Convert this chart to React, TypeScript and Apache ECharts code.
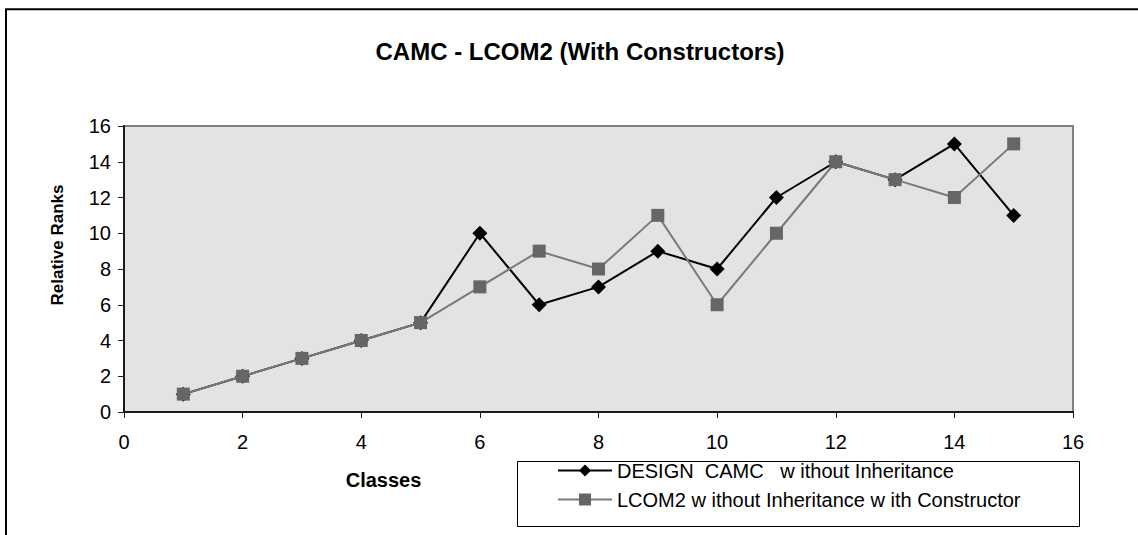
import React, { useEffect, useRef } from "react";
import * as echarts from "echarts";

const classes = [1, 2, 3, 4, 5, 6, 7, 8, 9, 10, 11, 12, 13, 14, 15];
const designCamc = [1, 2, 3, 4, 5, 10, 6, 7, 9, 8, 12, 14, 13, 15, 11];
const lcom2 = [1, 2, 3, 4, 5, 7, 9, 8, 11, 6, 10, 14, 13, 12, 15];
const seriesNames = [
  "DESIGN  CAMC   w ithout Inheritance",
  "LCOM2 w ithout Inheritance w ith Constructor",
];
const titleText = "CAMC - LCOM2 (With Constructors)";
const xName = "Classes";
const yName = "Relative Ranks";

const FONT = "'Liberation Sans', Arial, Helvetica, sans-serif";

export default function App() {
  const ref = useRef<HTMLDivElement>(null);
  useEffect(() => {
    if (!ref.current) return;
    const chart = echarts.init(ref.current, undefined, { renderer: "svg" });
    chart.setOption({
      animation: false,
      backgroundColor: "#ffffff",
      textStyle: { fontFamily: FONT, color: "#000" },
      title: {
        text: titleText,
        left: 580,
        top: 39,
        padding: 0,
        textAlign: "center",
        textStyle: { fontFamily: FONT, fontWeight: "bold", fontSize: 24, color: "#000" },
      },
      graphic: [
        {
          type: "rect",
          shape: { x: 6, y: 9.3, width: 1200, height: 600 },
          style: { fill: "none", stroke: "#000", lineWidth: 2 },
          silent: true,
        },
        {
          type: "rect",
          shape: { x: 517.5, y: 461.5, width: 562, height: 65 },
          style: { fill: "#fff", stroke: "#000", lineWidth: 1 },
          silent: true,
          z: 0,
        },
      ],
      legend: {
        orient: "vertical",
        left: 557,
        top: 460.5,
        padding: 0,
        itemWidth: 54,
        itemHeight: 15,
        itemGap: 9,
        z: 10,
        textStyle: { fontFamily: FONT, fontSize: 20, lineHeight: 20, color: "#000" },
        data: seriesNames,
      },
      grid: {
        left: 124,
        right: 65,
        top: 126,
        bottom: 123,
        show: true,
        backgroundColor: "#e3e3e3",
        borderColor: "#808080",
        borderWidth: 2,
      },
      xAxis: {
        type: "value",
        min: 0,
        max: 16,
        interval: 2,
        name: xName,
        nameLocation: "middle",
        nameGap: 58,
        nameTextStyle: {
          fontFamily: FONT,
          fontWeight: "bold",
          fontSize: 20,
          color: "#000",
          padding: [0, 430, 0, 0],
        },
        axisLine: { show: true, lineStyle: { color: "#1a1a1a", width: 2 } },
        axisTick: { show: true, length: 6, lineStyle: { color: "#1a1a1a", width: 1 } },
        axisLabel: { fontFamily: FONT, fontSize: 20, color: "#000", margin: 20 },
        splitLine: { show: false },
      },
      yAxis: {
        type: "value",
        min: 0,
        max: 16,
        interval: 2,
        name: yName,
        nameLocation: "middle",
        nameGap: 58,
        nameTextStyle: {
          fontFamily: FONT,
          fontWeight: "bold",
          fontSize: 17,
          color: "#000",
          padding: [0, 0, 0, 48],
        },
        axisLine: { show: true, lineStyle: { color: "#1a1a1a", width: 2 } },
        axisTick: { show: true, length: 6, lineStyle: { color: "#1a1a1a", width: 1 } },
        axisLabel: { fontFamily: FONT, fontSize: 20, color: "#000", margin: 13 },
        splitLine: { show: false },
      },
      series: [
        {
          name: seriesNames[0],
          type: "line",
          data: classes.map((c, i) => [c, designCamc[i]]),
          symbol: "diamond",
          symbolSize: 15,
          itemStyle: { color: "#000" },
          lineStyle: { color: "#000", width: 2 },
          z: 3,
        },
        {
          name: seriesNames[1],
          type: "line",
          data: classes.map((c, i) => [c, lcom2[i]]),
          symbol: "rect",
          symbolSize: 13,
          itemStyle: { color: "#666666" },
          lineStyle: { color: "#7a7a7a", width: 2 },
          z: 4,
        },
      ],
    });
    return () => chart.dispose();
  }, []);
  return (
    <div
      ref={ref}
      style={{ position: "fixed", left: 0, top: 0, width: 1138, height: 535 }}
    />
  );
}
